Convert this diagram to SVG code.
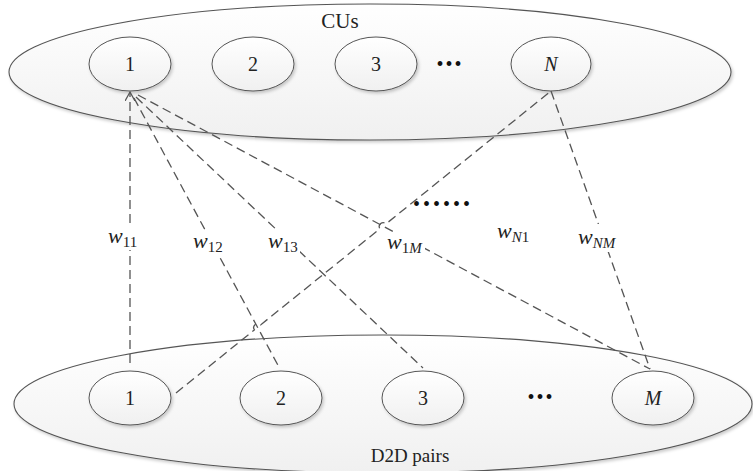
<svg xmlns="http://www.w3.org/2000/svg" width="753" height="471" viewBox="0 0 753 471">
<style>
.big{fill:url(#g);stroke:#555;stroke-width:1.1;filter:url(#sh)}
.nd{fill:url(#g);stroke:#555;stroke-width:1;filter:url(#sh)}
.t{font-family:"Liberation Serif","Times New Roman",serif;fill:#222;text-anchor:middle}
.num{font-size:20px}
.it{font-style:italic}
.lbl{font-family:"Liberation Serif","Times New Roman",serif;fill:#222;font-size:22px}
.sub{font-size:15px;font-style:normal}
.subi{font-size:15px;font-style:italic}
.ln{fill:none;stroke:#555;stroke-width:1.3;stroke-dasharray:9 5}
.dots{font-family:"Liberation Serif",serif;font-size:20px;fill:#111;text-anchor:middle}
</style>
<defs>
<linearGradient id="g" x1="0" y1="0" x2="0" y2="1">
<stop offset="0" stop-color="#ffffff"/>
<stop offset="1" stop-color="#f0f0f0"/>
</linearGradient>
<filter id="sh" x="-10%" y="-10%" width="120%" height="130%">
<feDropShadow dx="1.5" dy="2" stdDeviation="1.5" flood-color="#000" flood-opacity="0.2"/>
</filter>
<marker id="ah" markerUnits="userSpaceOnUse" markerWidth="12" markerHeight="12" refX="9" refY="5" orient="auto">
<path d="M0,0 L9,5 L0,10" fill="none" stroke="#555" stroke-width="1.3"/>
</marker>
</defs>

<g id="cus">
<ellipse class="big" cx="370" cy="72" rx="361" ry="68"/>
<text class="t" x="340" y="28" font-size="21">CUs</text>
</g>
<g id="d2d">
<ellipse class="big" cx="383" cy="404" rx="369" ry="69"/>
<text class="t" x="410" y="462" font-size="19">D2D pairs</text>
</g>

<g id="cu1"><ellipse class="nd" cx="130" cy="64" rx="41" ry="27"/><text class="t num" x="130" y="71">1</text></g>
<g id="cu2"><ellipse class="nd" cx="253" cy="64" rx="41" ry="27"/><text class="t num" x="253" y="71">2</text></g>
<g id="cu3"><ellipse class="nd" cx="376" cy="64" rx="41" ry="27"/><text class="t num" x="376" y="71">3</text></g>
<g id="cudots"><text class="dots" x="450" y="71" letter-spacing="2">•••</text></g>
<g id="cuN"><ellipse class="nd" cx="551" cy="64" rx="40" ry="27"/><text class="t num it" x="551" y="71">N</text></g>

<g id="d1"><ellipse class="nd" cx="130" cy="398" rx="41" ry="27"/><text class="t num" x="130" y="405">1</text></g>
<g id="d2"><ellipse class="nd" cx="281" cy="398" rx="41" ry="27"/><text class="t num" x="281" y="405">2</text></g>
<g id="d3"><ellipse class="nd" cx="423" cy="398" rx="41" ry="27"/><text class="t num" x="423" y="405">3</text></g>
<g id="ddots"><text class="dots" x="541" y="404" letter-spacing="2">•••</text></g>
<g id="dM"><ellipse class="nd" cx="653" cy="398" rx="41" ry="27"/><text class="t num it" x="653" y="405">M</text></g>

<g id="connectors">
<path class="ln" d="M130,363 L130,92" marker-end="url(#ah)"/>
<path class="ln" d="M134,98 L280,369"/>
<path class="ln" d="M136,97 L423,368"/>
<path class="ln" d="M138,95 L650,369"/>
<path class="ln" d="M176,393 L254.4,329.9 A4,4 0 0 1 260.6,324.9 L379.9,228.8 A4,4 0 0 1 386.1,223.8 L551,91"/>
<path class="ln" d="M551,91 L650,369"/>
</g>

<g id="labels">
<rect x="106" y="226" width="33" height="24" fill="#fff"/>
<text class="lbl" x="108" y="243"><tspan class="it">w</tspan><tspan class="sub" dy="4">11</tspan></text>
<rect x="191" y="231" width="34" height="24" fill="#fff"/>
<text class="lbl" x="193" y="248"><tspan class="it">w</tspan><tspan class="sub" dy="4">12</tspan></text>
<rect x="266" y="231" width="34" height="24" fill="#fff"/>
<text class="lbl" x="268" y="248"><tspan class="it">w</tspan><tspan class="sub" dy="4">13</tspan></text>
<rect x="385" y="232" width="40" height="24" fill="#fff"/>
<text class="lbl" x="387" y="249"><tspan class="it">w</tspan><tspan class="sub" dy="4">1</tspan><tspan class="subi">M</tspan></text>
<text class="lbl" x="497" y="238"><tspan class="it">w</tspan><tspan class="subi" dy="4">N</tspan><tspan class="sub">1</tspan></text>
<rect x="576" y="224" width="44" height="28" fill="#fff"/>
<text class="lbl" x="578" y="244"><tspan class="it">w</tspan><tspan class="subi" dy="4">NM</tspan></text>
<text class="dots" x="443" y="211" letter-spacing="3">••••••</text>
</g>
</svg>
